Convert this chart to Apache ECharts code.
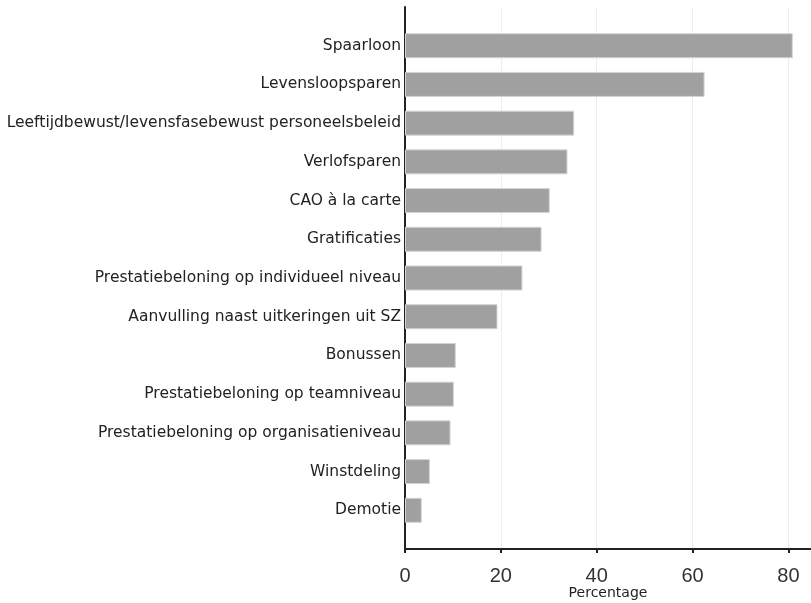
<!DOCTYPE html>
<html><head><meta charset="utf-8">
<script src="https://cdn.jsdelivr.net/npm/echarts@6/dist/echarts.min.js"></script>
<style>html,body{margin:0;padding:0;background:#fff}#c{width:811px;height:603px}</style>
</head><body><div id="c"></div>
<script>
const categories = ['Spaarloon','Levensloopsparen','Leeftijdbewust/levensfasebewust personeelsbeleid','Verlofsparen','CAO à la carte','Gratificaties','Prestatiebeloning op individueel niveau','Aanvulling naast uitkeringen uit SZ','Bonussen','Prestatiebeloning op teamniveau','Prestatiebeloning op organisatieniveau','Winstdeling','Demotie'];
const values = [80.9, 62.5, 35.3, 33.9, 30.2, 28.5, 24.5, 19.3, 10.6, 10.2, 9.5, 5.2, 3.5];
const xTicks = [0, 20, 40, 60, 80];

const cats = [''].concat(categories, ['']);
const vals = ['-'].concat(values, ['-']);

const chart = echarts.init(document.getElementById('c'));
chart.setOption({
  animation: false,
  grid: {left: 405, right: 0, top: 7, bottom: 54, containLabel: false, outerBoundsMode: 'none'},
  xAxis: {
    type: 'value', min: 0, max: 84.7, interval: 20,
    name: 'Percentage', nameLocation: 'middle', nameGap: 37, nameMoveOverlap: false,
    nameTextStyle: {fontFamily: 'DejaVu Sans', fontSize: 14, color: '#222'},
    axisLine: {show: true, lineStyle: {color: '#222', width: 2}},
    axisTick: {show: true, length: 4, lineStyle: {color: '#222', width: 2}},
    axisLabel: {fontFamily: 'Liberation Sans', fontSize: 20, color: '#333', margin: 17,
      showMaxLabel: false,
      formatter: v => xTicks.indexOf(v) >= 0 ? String(v) : ''},
    splitLine: {show: true, lineStyle: {color: '#e6eff4', width: 1}}
  },
  yAxis: {
    type: 'category', data: cats, inverse: true, boundaryGap: false,
    axisLine: {show: true, lineStyle: {color: '#222', width: 2}},
    axisTick: {show: false},
    splitLine: {show: false},
    axisLabel: {fontFamily: 'DejaVu Sans', fontSize: 15.5, color: '#222', margin: 4}
  },
  series: [{
    type: 'bar', data: vals, barWidth: 25,
    itemStyle: {color: '#a0a0a0', borderColor: '#d4d4d4', borderWidth: 1}
  }]
});
</script></body></html>
